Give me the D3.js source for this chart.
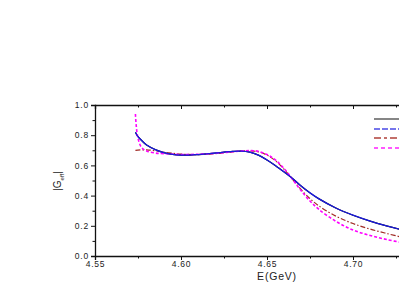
<!DOCTYPE html>
<html>
<head>
<meta charset="utf-8">
<script src="https://cdn.jsdelivr.net/npm/d3@7"></script>
<style>
  body { margin: 0; background: #fff; }
  svg { display: block; font-family: "Liberation Sans", Arial, sans-serif; }
</style>
</head>
<body>
<div id="chart"></div>
<script>
// curves: energy (GeV) and |G_eff|
var blue_E = [4.5735, 4.575, 4.578, 4.58, 4.585, 4.59, 4.595, 4.60, 4.605, 4.61, 4.62, 4.63, 4.635, 4.64, 4.645, 4.65, 4.655, 4.66, 4.665, 4.67, 4.675, 4.68, 4.69, 4.70, 4.71, 4.72, 4.73];
var blue_G = [0.82, 0.79, 0.755, 0.735, 0.705, 0.685, 0.673, 0.668, 0.668, 0.672, 0.682, 0.693, 0.695, 0.688, 0.668, 0.636, 0.598, 0.556, 0.512, 0.462, 0.418, 0.380, 0.318, 0.270, 0.231, 0.198, 0.168];

var brown_E = [4.5735, 4.58, 4.59, 4.60, 4.61, 4.62, 4.63, 4.64, 4.645, 4.65, 4.655, 4.66, 4.665, 4.67, 4.675, 4.68, 4.69, 4.70, 4.71, 4.72, 4.73];
var brown_G = [0.700, 0.703, 0.688, 0.675, 0.672, 0.678, 0.690, 0.697, 0.690, 0.668, 0.630, 0.574, 0.506, 0.438, 0.380, 0.333, 0.264, 0.215, 0.178, 0.148, 0.120];

var pink_E = [4.5735, 4.574, 4.575, 4.577, 4.58, 4.585, 4.59, 4.60, 4.61, 4.62, 4.63, 4.64, 4.645, 4.65, 4.655, 4.66, 4.665, 4.67, 4.675, 4.68, 4.69, 4.70, 4.71, 4.72, 4.73];
var pink_G = [0.94, 0.86, 0.78, 0.72, 0.695, 0.682, 0.678, 0.672, 0.674, 0.680, 0.690, 0.698, 0.693, 0.672, 0.635, 0.578, 0.505, 0.430, 0.364, 0.310, 0.230, 0.172, 0.136, 0.108, 0.086];

var x_ticks = [4.55, 4.60, 4.65, 4.70];
var x_minor = [4.575, 4.625, 4.675, 4.725];
var y_ticks = [0.0, 0.2, 0.4, 0.6, 0.8, 1.0];
var y_minor = [0.1, 0.3, 0.5, 0.7, 0.9];

var W = 399, H = 291;
var x0 = 95, y0 = 256, yTop = 105;
var x = d3.scaleLinear().domain([4.55, 4.75]).range([x0, x0 + 4 * 86]);
var y = d3.scaleLinear().domain([0, 1]).range([y0, yTop]);

var svg = d3.select("#chart").append("svg").attr("width", W).attr("height", H);

function zip(E, G) { return E.map(function(e, i) { return [e, G[i]]; }); }
var line = d3.line().x(function(d) { return x(d[0]); }).y(function(d) { return y(d[1]); })
   .curve(d3.curveCatmullRom.alpha(0.5));

var series = [
   { data: zip(blue_E, blue_G), color: "#000", dash: null, w: 1.2 },
   { data: zip(brown_E, brown_G), color: "#a02a24", dash: "5,2,1.5,2", w: 1.2 },
   { data: zip(pink_E, pink_G), color: "#ff00ff", dash: "3,2", w: 1.6 },
   { data: zip(blue_E, blue_G), color: "#1a1adf", dash: null, w: 1.3 }
];
series.forEach(function(s) {
   svg.append("path").attr("d", line(s.data)).attr("fill", "none")
      .attr("stroke", s.color).attr("stroke-width", s.w)
      .attr("stroke-dasharray", s.dash);
});

// axes
var fmt = d3.format(".2f");
svg.append("g").attr("transform", "translate(0," + y0 + ")")
   .call(d3.axisBottom(x).tickValues(x_ticks).tickFormat(fmt).tickSize(4).tickPadding(1));
svg.append("g").attr("transform", "translate(0," + y0 + ")")
   .call(d3.axisBottom(x).tickValues(x_minor).tickFormat("").tickSize(2.5))
   .select(".domain").remove();

svg.append("g").attr("transform", "translate(0," + yTop + ")")
   .call(d3.axisTop(x).tickValues(x_ticks).tickFormat("").tickSize(-4));
svg.append("g").attr("transform", "translate(0," + yTop + ")")
   .call(d3.axisTop(x).tickValues(x_minor).tickFormat("").tickSize(-2.5))
   .select(".domain").remove();

svg.append("g").attr("transform", "translate(" + x0 + ",0)")
   .call(d3.axisLeft(y).tickValues(y_ticks).tickFormat(d3.format(".1f")).tickSize(4).tickPadding(2));
svg.append("g").attr("transform", "translate(" + x0 + ",0)")
   .call(d3.axisLeft(y).tickValues(y_minor).tickFormat("").tickSize(2.5))
   .select(".domain").remove();

svg.selectAll(".domain").attr("stroke-width", 1.3).attr("stroke", "#111");
svg.selectAll(".tick line").attr("stroke", "#111").attr("stroke-width", 1);
svg.selectAll(".tick text").attr("font-size", 8.5).attr("fill", "#222")
   .attr("letter-spacing", 0.8)
   .attr("font-family", "Liberation Sans, Arial, sans-serif");

// labels
svg.append("text").attr("x", 277).attr("y", 280).attr("text-anchor", "middle")
   .attr("font-size", 10.5).attr("letter-spacing", 0.8).attr("fill", "#222").text("E(GeV)");

var ylab = svg.append("text").attr("transform", "translate(61,181) rotate(-90)")
   .attr("text-anchor", "middle").attr("font-size", 10).attr("fill", "#222");
ylab.append("tspan").text("|G");
ylab.append("tspan").attr("font-size", 6).attr("dy", 2.5).text("eff");
ylab.append("tspan").attr("dy", -2.5).text("|");

// legend (only line samples are visible in the window)
var legend = [
   { color: "#444", dash: null, yy: 119 },
   { color: "#4a4ae6", dash: "6,2", yy: 129 },
   { color: "#b0403a", dash: "7,3,3,3", yy: 138 },
   { color: "#ff22ff", dash: "4,3", yy: 148 }
];
legend.forEach(function(l) {
   svg.append("line").attr("x1", 374).attr("x2", 399).attr("y1", l.yy).attr("y2", l.yy)
      .attr("stroke", l.color).attr("stroke-width", 1.3).attr("stroke-dasharray", l.dash);
});
</script>
</body>
</html>
